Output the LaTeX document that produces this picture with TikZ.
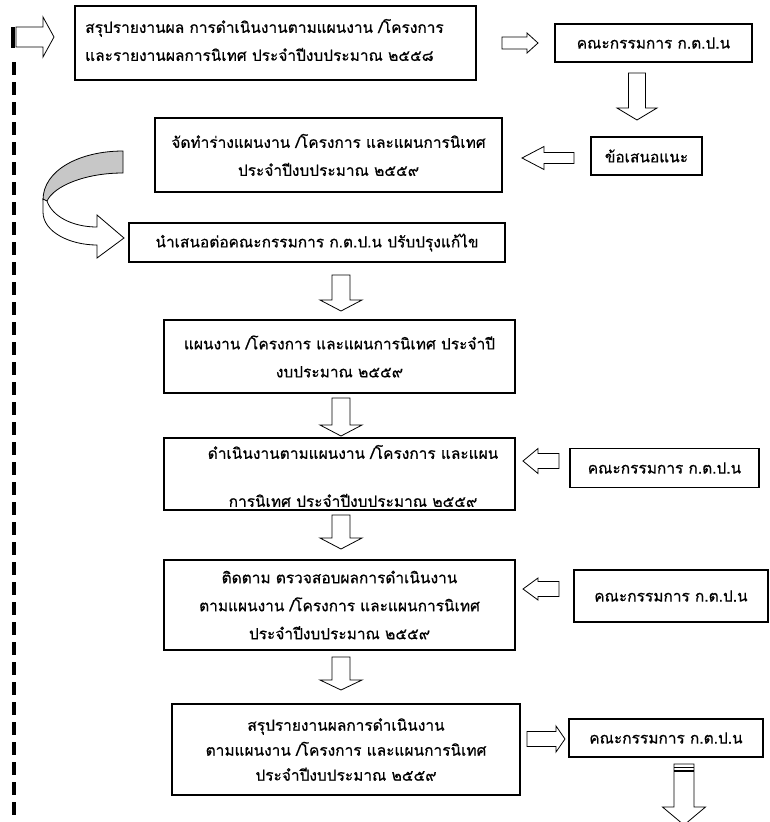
\documentclass[tikz,border=0pt]{standalone}
\usepackage{fontspec}
\newfontfamily\thai[Script=Thai, FakeBold=0.6]{Loma}
\newcommand\thaitext{\thai\fontsize{11.6pt}{21pt}\selectfont}
% horizontal block arrow: tail x, head-base x, tip x, centre y, shaft half, head half
\newcommand\harr[6]{\draw[blk] (#1,{#4-#5}) -- (#2,{#4-#5}) -- (#2,{#4-#6}) -- (#3,#4) -- (#2,{#4+#6}) -- (#2,{#4+#5}) -- (#1,{#4+#5}) -- cycle;}
% vertical block arrow: centre x, tail y, head-base y, tip y, shaft half, head half
\newcommand\varr[6]{\draw[blk] ({#1-#5},#2) -- ({#1-#5},#3) -- ({#1-#6},#3) -- (#1,#4) -- ({#1+#6},#3) -- ({#1+#5},#3) -- ({#1+#5},#2) -- cycle;}
\begin{document}
\begin{tikzpicture}[x=0.75pt,y=-0.75pt,
  box/.style={draw=black, line width=0.8pt, fill=white, inner sep=0pt, align=center, font=\thaitext},
  txt/.style={inner sep=0pt, font=\thaitext},
  blk/.style={draw=black, line width=0.6pt, fill=white, line join=miter},
  fb/.style={line width=3.2pt, black},
]
\useasboundingbox (0,0) rectangle (769,822);

% feedback line on the left
\coordinate (fbtop) at (13,27);
\coordinate (fbbar) at (13,48);
\coordinate (fbdash) at (14,62);
\coordinate (fbbot) at (14,822);
\draw[fb] (fbtop) -- (fbbar);
\draw[fb, dash pattern=on 9.75pt off 5.25pt] (fbdash) -- (fbbot);
\harr{16}{43}{54}{37}{10}{20}

% boxes
\node[box, minimum width=300.75pt, minimum height=55.5pt] (b1) at (275.5,43) {};
\node[txt, anchor=west, align=left] (t1) at (85,40) {สรุปรายงานผล การดำเนินงานตามแผนงาน /โครงการ\\และรายงานผลการนิเทศ ประจำปีงบประมาณ ๒๕๕๘};

\node[box, minimum width=147.75pt, minimum height=28.5pt] (c1) at (653.5,43) {คณะกรรมการ ก.ต.ป.น};

\node[box, minimum width=260.25pt, minimum height=55.5pt] (b2) at (328.5,155) {จัดทำร่างแผนงาน /โครงการ และแผนการนิเทศ\\ประจำปีงบประมาณ ๒๕๕๙};

\node[box, minimum width=83.25pt, minimum height=28.5pt] (s2) at (646.5,156) {ข้อเสนอแนะ};

\node[box, minimum width=282pt, minimum height=29.25pt] (b3) at (317,242.5) {นำเสนอต่อคณะกรรมการ ก.ต.ป.น ปรับปรุงแก้ไข};

\node[box, minimum width=263.25pt, minimum height=54.75pt] (b4) at (339.5,356.5) {แผนงาน /โครงการ และแผนการนิเทศ ประจำปี\\งบประมาณ ๒๕๕๙};

\node[box, minimum width=263.25pt, minimum height=54pt] (b5) at (339.5,474) {};
\node[txt, align=center] (t5) at (353,476) {ดำเนินงานตามแผนงาน /โครงการ และแผน\\[15pt]การนิเทศ ประจำปีงบประมาณ ๒๕๕๙};

\node[box, minimum width=141.75pt, minimum height=29.25pt] (c5) at (664.5,468) {คณะกรรมการ ก.ต.ป.น};

\node[box, minimum width=263.25pt, minimum height=67.5pt] (b6) at (339.5,605) {ติดตาม ตรวจสอบผลการดำเนินงาน\\ตามแผนงาน /โครงการ และแผนการนิเทศ\\ประจำปีงบประมาณ ๒๕๕๙};

\node[box, minimum width=145.5pt, minimum height=39pt] (c6) at (671,596) {คณะกรรมการ ก.ต.ป.น};

\node[box, minimum width=261pt, minimum height=68.25pt, font=\thai\fontsize{11.6pt}{18.75pt}\selectfont] (b7) at (346,749.5) {สรุปรายงานผลการดำเนินงาน\\ตามแผนงาน /โครงการ และแผนการนิเทศ\\ประจำปีงบประมาณ ๒๕๕๙};

\node[box, minimum width=145.5pt, minimum height=28.5pt] (c7) at (666,738) {คณะกรรมการ ก.ต.ป.น};

% block arrows
\harr{502}{527}{538}{43}{6}{10}
\varr{637}{73}{108}{120}{8.5}{20}
\harr{574}{544}{522}{158}{5.5}{11.5}
\varr{341}{275}{300}{311}{9}{21}
\varr{341}{398}{425}{436}{9}{21}
\harr{559}{538}{523}{461}{7.5}{12.5}
\varr{341}{515}{538}{549}{9}{21}
\harr{559}{538}{523}{589}{7.5}{11}
\varr{341}{657}{680}{690}{9}{21}
\harr{527}{556}{565}{739}{7.5}{13}
\varr{684}{764}{807}{825}{10}{21.5}
\draw[line width=0.6pt] (674,767) -- (694,767);
\draw[line width=1.5pt] (674,770.5) -- (694,770.5);

% curved arrow
\draw[blk, fill=black!22] (123,151) .. controls (80,151) and (43,170) .. (43,200) -- (47,201) .. controls (54,186) and (85,173) .. (123,173) -- cycle;
\draw[blk] (43,199) -- (43,212) .. controls (43,232) and (70,245) .. (97,245) -- (97,258) -- (124,238) -- (97,215) -- (97,227) .. controls (72,227) and (52,216) .. (47,201) -- cycle;
\end{tikzpicture}
\end{document}
